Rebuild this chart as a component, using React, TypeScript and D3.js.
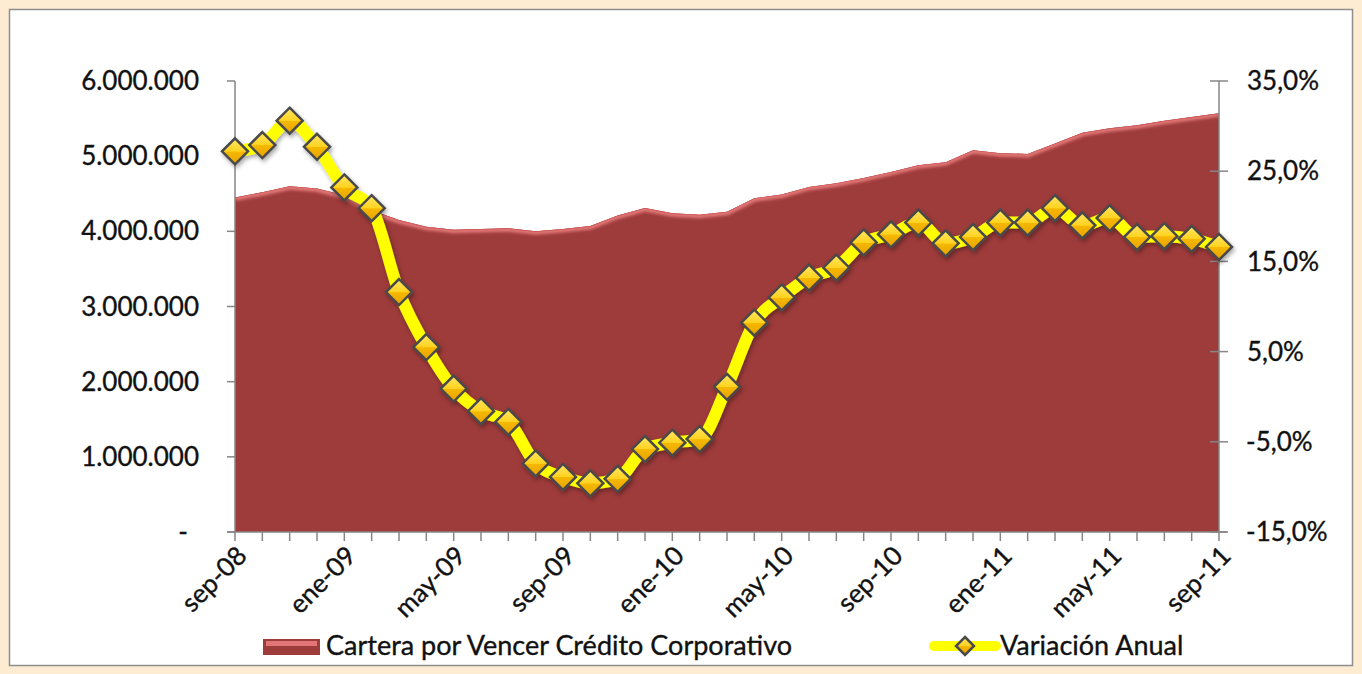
import React from "react";
import * as d3 from "d3";

const months = [
  "sep-08","oct-08","nov-08","dic-08","ene-09","feb-09","mar-09","abr-09","may-09","jun-09","jul-09","ago-09",
  "sep-09","oct-09","nov-09","dic-09","ene-10","feb-10","mar-10","abr-10","may-10","jun-10","jul-10","ago-10",
  "sep-10","oct-10","nov-10","dic-10","ene-11","feb-11","mar-11","abr-11","may-11","jun-11","jul-11","ago-11","sep-11",
];

// Cartera por Vencer Crédito Corporativo (millions)
const carteraMillions = [
  4.45, 4.52, 4.60, 4.57, 4.48, 4.28, 4.15, 4.06, 4.02, 4.03, 4.04, 4.00,
  4.03, 4.07, 4.21, 4.31, 4.24, 4.22, 4.26, 4.44, 4.49, 4.59, 4.64, 4.71,
  4.79, 4.88, 4.92, 5.08, 5.04, 5.03, 5.17, 5.31, 5.37, 5.41, 5.47, 5.52, 5.57,
];

// Variación Anual (%)
const variacionAnual = [
  27.2, 27.9, 30.6, 27.7, 23.2, 20.9, 11.6, 5.5, 0.9, -1.6, -2.8, -7.4,
  -8.9, -9.6, -9.1, -5.8, -5.1, -4.7, 1.1, 8.2, 11.0, 13.2, 14.3, 17.1,
  18.0, 19.3, 17.0, 17.7, 19.3, 19.3, 20.9, 19.0, 19.8, 17.7, 17.8, 17.5, 16.6,
];

const leftTicks = [0, 1000000, 2000000, 3000000, 4000000, 5000000, 6000000];
const rightTicks = [-15, -5, 5, 15, 25, 35];
const shownLabels = ["sep-08","ene-09","may-09","sep-09","ene-10","may-10","sep-10","ene-11","may-11","sep-11"];
const legendNames = ["Cartera por Vencer Crédito Corporativo", "Variación Anual"];

const W = 1362;
const H = 674;
const FONT = "Lato, 'Open Sans', sans-serif";
const FS = 26;

const locale = d3.formatLocale({ decimal: ",", thousands: ".", grouping: [3], currency: ["", ""], minus: "-" });
const fmtLeft = (v: number) => (v === 0 ? "-" : locale.format(",.0f")(v));
const fmtRight = (v: number) => locale.format(".1f")(v) + "%";

export default function App() {
  const x = d3.scalePoint<string>().domain(months).range([235, 1219]);
  const yL = d3.scaleLinear().domain([0, 6000000]).range([532, 81]);
  const yR = d3.scaleLinear().domain([-15, 35]).range([532, 81]);

  const cartera = carteraMillions.map((v) => v * 1000000);

  const areaGen = d3
    .area<number>()
    .x((_, i) => x(months[i]) as number)
    .y0(yL(0))
    .y1((d) => yL(d));
  const topLine = d3
    .line<number>()
    .x((_, i) => x(months[i]) as number)
    .y((d) => yL(d));
  const varLine = d3
    .line<number>()
    .x((_, i) => x(months[i]) as number)
    .y((d) => yR(d))
    .curve(d3.curveMonotoneX);

  const diamond = (cx: number, cy: number, r: number) =>
    `M${cx},${cy - r}L${cx + r},${cy}L${cx},${cy + r}L${cx - r},${cy}Z`;

  const x0 = x(months[0]) as number;
  const x1 = x(months[months.length - 1]) as number;
  const yBase = yL(0);

  const textProps = { fontSize: FS, fill: "#111", stroke: "#111", strokeWidth: 0.35 };
  const legendText = { ...textProps, fontSize: 27 };

  return (
    <svg
      width={W}
      height={H}
      style={{ position: "absolute", left: 0, top: 0, display: "block" }}
      fontFamily={FONT}
    >
      <defs>
        <linearGradient id="dia" x1="0" y1="0" x2="0" y2="1">
          <stop offset="0%" stopColor="#FFE766" />
          <stop offset="50%" stopColor="#FFD21F" />
          <stop offset="52%" stopColor="#F5B800" />
          <stop offset="100%" stopColor="#E8A200" />
        </linearGradient>
        <filter id="blur2" x="-5%" y="-5%" width="110%" height="110%">
          <feGaussianBlur stdDeviation="1.6" />
        </filter>
        <filter id="shadow" x="-10%" y="-10%" width="120%" height="130%">
          <feDropShadow dx="1.5" dy="2.5" stdDeviation="2" floodColor="#000" floodOpacity="0.35" />
        </filter>
        <clipPath id="areaClip">
          <path d={areaGen(cartera) || ""} />
        </clipPath>
      </defs>

      <rect x={0} y={0} width={W} height={H} fill="#FDEBD2" />
      <rect x={9.5} y={9.5} width={1343} height={656} fill="#FFFFFF" stroke="#8E8E8E" strokeWidth={1.5} />

      {/* Area */}
      <path d={areaGen(cartera) || ""} fill="#9E3B3B" />
      <g clipPath="url(#areaClip)">
        <path d={topLine(cartera) || ""} fill="none" stroke="#E27676" strokeWidth={7} filter="url(#blur2)" />
        <path d={topLine(cartera) || ""} fill="none" stroke="#C95656" strokeWidth={1.2} />
        <line x1={x0} x2={x0} y1={yL(cartera[0])} y2={yBase} stroke="#B24848" strokeWidth={3} filter="url(#blur2)" />
        <line x1={x0} x2={x1} y1={yBase - 1} y2={yBase - 1} stroke="#8A3030" strokeWidth={4} filter="url(#blur2)" />
      </g>

      {/* Axes */}
      <g stroke="#868686" strokeWidth={1.5}>
        <line x1={x0} x2={x0} y1={yL(6000000)} y2={yBase} />
        <line x1={x1} x2={x1} y1={yR(35)} y2={yBase} />
        <line x1={x0 - 8} x2={x1 + 8} y1={yBase} y2={yBase} />
        {leftTicks.map((t) => (
          <line key={"lt" + t} x1={x0 - 8} x2={x0} y1={yL(t)} y2={yL(t)} />
        ))}
        {rightTicks.map((t) => (
          <line key={"rt" + t} x1={x1 - 9} x2={x1 + 9} y1={yR(t)} y2={yR(t)} />
        ))}
        {months.map((m) => (
          <line key={"xt" + m} x1={x(m) as number} x2={x(m) as number} y1={yBase} y2={yBase + 9} />
        ))}
      </g>

      {/* Left labels */}
      {leftTicks.map((t) => (
        <text key={"ll" + t} x={t === 0 ? 188 : 199} y={yL(t)} dy="0.35em" textAnchor="end" {...textProps}>
          {fmtLeft(t)}
        </text>
      ))}
      {/* Right labels */}
      {rightTicks.map((t) => (
        <text key={"rl" + t} x={t < 0 ? 1246 : 1247} y={yR(t)} dy="0.35em" textAnchor="start" {...textProps}>
          {fmtRight(t)}
        </text>
      ))}
      {/* X labels */}
      {shownLabels.map((m) => {
        const px = (x(m) as number) + 7;
        const py = yBase + 19;
        return (
          <text key={"xl" + m} x={px} y={py} textAnchor="end" transform={`rotate(-45 ${px} ${py})`} dy="0.35em" {...textProps}>
            {m}
          </text>
        );
      })}

      {/* Variación line */}
      <g filter="url(#shadow)">
        <path d={varLine(variacionAnual) || ""} fill="none" stroke="#FFFF00" strokeWidth={12} strokeLinejoin="round" />
        {variacionAnual.map((v, i) => (
          <path
            key={"mk" + i}
            d={diamond(x(months[i]) as number, yR(v), 13)}
            fill="url(#dia)"
            stroke="#4A4A4A"
            strokeWidth={2.5}
            strokeLinejoin="miter"
          />
        ))}
      </g>

      {/* Legend */}
      <rect x={263} y={639} width={57} height={16} fill="#9E3B3B" />
      <rect x={266} y={641} width={51} height={5} fill="#E27676" />
      <text x={326} y={646} dy="0.35em" {...legendText}>{legendNames[0]}</text>
      <line x1={934} x2={996} y1={646} y2={646} stroke="#FFFF00" strokeWidth={10} strokeLinecap="round" />
      <path d={diamond(965, 646, 9)} fill="url(#dia)" stroke="#4A4A4A" strokeWidth={2.5} />
      <text x={1000} y={646} dy="0.35em" {...legendText}>{legendNames[1]}</text>
    </svg>
  );
}
